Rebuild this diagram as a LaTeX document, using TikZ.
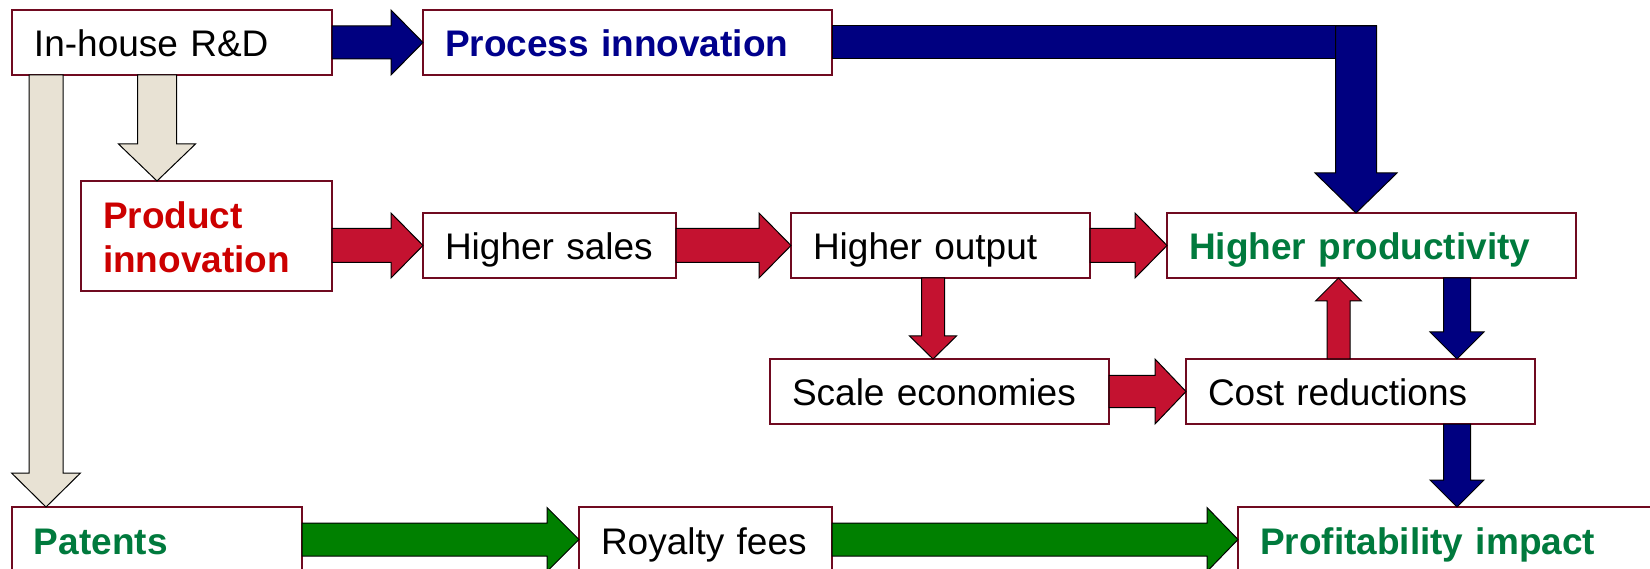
\documentclass[tikz,border=0pt]{standalone}
\usepackage{fontspec}
\setmainfont{Liberation Sans}
\usetikzlibrary{calc}

\definecolor{boxc}{RGB}{112,10,32}
\definecolor{navyfill}{RGB}{0,0,128}
\definecolor{redfill}{RGB}{196,18,48}
\definecolor{greenfill}{RGB}{0,128,0}
\definecolor{beigefill}{RGB}{232,226,212}
\definecolor{navytext}{RGB}{0,0,140}
\definecolor{redtext}{RGB}{204,0,0}
\definecolor{greentext}{RGB}{0,122,61}

% block arrows: #1 start, #2 tip, #3 style, #4 half shaft, #5 half head, #6 head length
\newcommand\blockright[6]{%
  \filldraw[#3] let \p1=(#1), \p2=(#2) in
    (\x1,\y2+#4) -- (\x2-#6,\y2+#4) -- (\x2-#6,\y2+#5) -- (\x2,\y2)
    -- (\x2-#6,\y2-#5) -- (\x2-#6,\y2-#4) -- (\x1,\y2-#4) -- cycle;}
\newcommand\blockdown[6]{%
  \filldraw[#3] let \p1=(#1), \p2=(#2) in
    (\x2-#4,\y1) -- (\x2-#4,\y2+#6) -- (\x2-#5,\y2+#6) -- (\x2,\y2)
    -- (\x2+#5,\y2+#6) -- (\x2+#4,\y2+#6) -- (\x2+#4,\y1) -- cycle;}
\newcommand\blockup[6]{%
  \filldraw[#3] let \p1=(#1), \p2=(#2) in
    (\x2-#4,\y1) -- (\x2-#4,\y2-#6) -- (\x2-#5,\y2-#6) -- (\x2,\y2)
    -- (\x2+#5,\y2-#6) -- (\x2+#4,\y2-#6) -- (\x2+#4,\y1) -- cycle;}

\tikzset{
  box/.style={draw=boxc, line width=2pt, fill=white, anchor=north west,
    outer sep=0pt, inner xsep=22pt, inner ysep=0pt, minimum height=65pt,
    align=left, text height=31pt, text depth=2pt,
    font=\fontsize{37}{44}\selectfont},
  boldbox/.style={box, font=\fontsize{37}{44}\selectfont\bfseries},
  navyarrow/.style={fill=navyfill, draw=black, line width=1pt},
  redarrow/.style={fill=redfill, draw=black, line width=1pt},
  greenarrow/.style={fill=greenfill, draw=black, line width=1pt},
  beigearrow/.style={fill=beigefill, draw=black, line width=1pt},
}

\begin{document}
\begin{tikzpicture}[x=1pt,y=-1pt]
\useasboundingbox (0,0) rectangle (1650,569);
\clip (0,0) rectangle (1650,569);

% boxes
\node[box, text width=276pt] (rd) at (12,10) {In-house R\&D};
\node[boldbox, text=navytext, text width=365pt] (proc) at (423,10) {Process innovation};
\node[boldbox, text=redtext, minimum height=110pt, text depth=46pt, text width=207pt] (prod) at (81,181) {Product\\innovation};
\node[box, text width=209pt] (sales) at (423,213) {Higher sales};
\node[box, text width=255pt] (output) at (791,213) {Higher output};
\node[boldbox, text=greentext, text width=365pt] (prodty) at (1167,213) {Higher productivity};
\node[box, text width=295pt] (scale) at (770,359) {Scale economies};
\node[box, text width=305pt] (cost) at (1186,359) {Cost reductions};
\node[boldbox, text=greentext, text width=246pt] (pat) at (12,507) {Patents};
\node[box, text width=209pt] (roy) at (579,507) {Royalty fees};
\node[boldbox, text=greentext, text width=386pt] (profit) at (1238,507) {Profitability impact};

% arrow tips and bends
\coordinate (tipA) at ($(prod.north west)+(76,0)$);
\coordinate (tipB) at ($(pat.north west)+(34,0)$);
\coordinate (ptip) at ($(prodty.north west)+(189,0)$);
\coordinate (pbend) at ($(proc.east -| ptip)+(0,-16.5)$);
\coordinate (tipC) at ($(scale.north west)+(163,0)$);
\coordinate (tipD) at ($(prodty.south west)+(171.5,0)$);
\coordinate (tipE) at ($(cost.north west)+(271,0)$);
\coordinate (tipF) at ($(profit.north west)+(219,0)$);

% R&D branches
\blockdown{rd.south}{tipB}{beigearrow}{17pt}{34.5pt}{34pt}
\blockdown{rd.south}{tipA}{beigearrow}{19.5pt}{38.5pt}{37pt}

% process innovation path
\blockright{rd.east}{proc.west}{navyarrow}{16.5pt}{32.5pt}{32pt}
\filldraw[navyarrow] ($(proc.east)+(0,-16.5)$) rectangle ($(pbend)+(20.5,33)$);
\blockdown{pbend}{ptip}{navyarrow}{20.5pt}{41pt}{40pt}

% product innovation path
\blockright{prod.east}{sales.west}{redarrow}{17pt}{32.5pt}{32pt}
\blockright{sales.east}{output.west}{redarrow}{17pt}{32.5pt}{32pt}
\blockright{output.east}{prodty.west}{redarrow}{17pt}{32.5pt}{32pt}
\blockdown{output.south}{tipC}{redarrow}{11.5pt}{23.5pt}{23pt}
\blockright{scale.east}{cost.west}{redarrow}{16pt}{32.5pt}{31pt}
\blockup{cost.north}{tipD}{redarrow}{11.5pt}{23pt}{23pt}

% towards profitability
\blockdown{prodty.south}{tipE}{navyarrow}{13.5pt}{27pt}{27pt}
\blockdown{cost.south}{tipF}{navyarrow}{13.5pt}{27pt}{27pt}

% patents path
\blockright{pat.east}{roy.west}{greenarrow}{16.5pt}{32pt}{32pt}
\blockright{roy.east}{profit.west}{greenarrow}{16.5pt}{32pt}{31pt}
\end{tikzpicture}
\end{document}
